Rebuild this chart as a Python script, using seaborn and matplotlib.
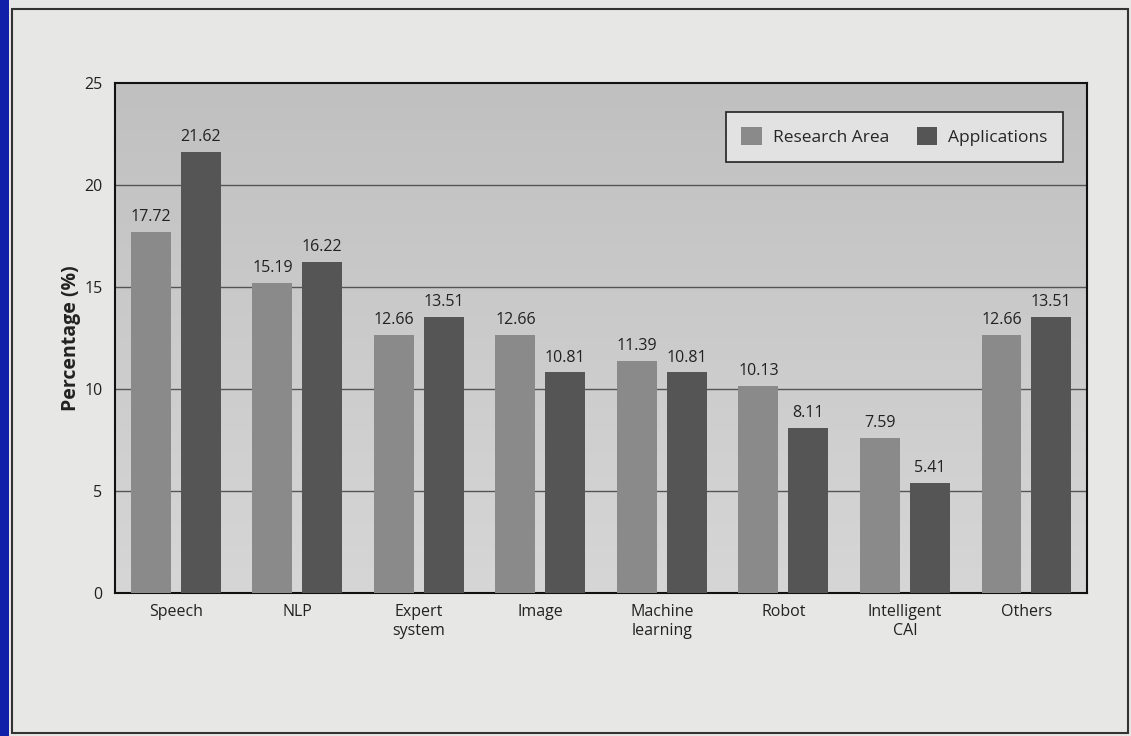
import matplotlib
matplotlib.use("Agg")
import matplotlib.pyplot as plt
import seaborn as sns
import pandas as pd
import numpy as np
from matplotlib.patches import Rectangle
from matplotlib.colors import LinearSegmentedColormap

categories = ["Speech", "NLP", "Expert\nsystem", "Image", "Machine\nlearning",
              "Robot", "Intelligent\nCAI", "Others"]
research_area = [17.72, 15.19, 12.66, 12.66, 11.39, 10.13, 7.59, 12.66]
applications = [21.62, 16.22, 13.51, 10.81, 10.81, 8.11, 5.41, 13.51]
series_names = ["Research Area", "Applications"]
y_ticks = [0, 5, 10, 15, 20, 25]

df = pd.DataFrame({
    "Category": categories * 2,
    "Value": research_area + applications,
    "Series": [series_names[0]] * len(categories) + [series_names[1]] * len(categories),
})

sns.set_style("white")
plt.rcParams["font.family"] = ["Open Sans", "DejaVu Sans"]

page_bg = "#e7e7e5"
fig = plt.figure(figsize=(11.31, 7.36), dpi=100, facecolor=page_bg)
ax = fig.add_axes([0.1017, 0.1943, 0.8595, 0.6929])

# subtle vertical gradient in plot background
cmap = LinearSegmentedColormap.from_list("bg", ["#d6d6d6", "#c0c0c0"])
ax.imshow(np.linspace(0, 1, 256).reshape(-1, 1), extent=(-0.5, 7.5, 0, 25), origin="lower",
          aspect="auto", cmap=cmap, zorder=0)

palette = {series_names[0]: "#8a8a8a", series_names[1]: "#555555"}
sns.barplot(data=df, x="Category", y="Value", hue="Series", palette=palette,
            width=0.82, gap=0.2, ax=ax, saturation=1, zorder=3, legend=True,
            edgecolor="none", linewidth=0)

for cont in ax.containers:
    ax.bar_label(cont, fmt="%.2f", padding=5, fontsize=11.5, color="#222222")

ax.set_ylim(0, 25)
ax.set_xlim(-0.5, 7.5)
ax.set_yticks(y_ticks)
ax.set_yticklabels([str(t) for t in y_ticks], fontsize=11.5, color="#222222")
ax.tick_params(axis="y", length=0, pad=9)
ax.tick_params(axis="x", length=0, pad=8, labelsize=11.5, labelcolor="#222222")
for t in y_ticks[1:-1]:
    ax.axhline(t, color="#555555", lw=1.0, zorder=1)
ax.set_xlabel("")
ax.set_ylabel("Percentage (%)", fontsize=14, fontweight="bold", color="#222222", labelpad=2)
for s in ax.spines.values():
    s.set_color("#111111")
    s.set_linewidth(1.5)

leg = ax.legend(loc="upper right", bbox_to_anchor=(0.984, 0.961), ncol=2, frameon=True,
                fontsize=12.5, handlelength=1.2, handleheight=1.2, columnspacing=1.6,
                handletextpad=0.6, borderpad=0.9, fancybox=False, facecolor="#e2e2e2",
                edgecolor="#222222", title=None)
leg.get_frame().set_linewidth(1.2)
leg.get_frame().set_alpha(1)

# outer frame and scan edge
fig.patches.append(Rectangle((12 / 1131, 3 / 736), 1116 / 1131, 724 / 736, transform=fig.transFigure,
                             fill=False, edgecolor="#333333", lw=1.5))
fig.patches.append(Rectangle((0, 0), 9 / 1131, 1, transform=fig.transFigure,
                             facecolor="#1020a8", edgecolor="none"))

fig.savefig("out.png", dpi=100, facecolor=page_bg)
